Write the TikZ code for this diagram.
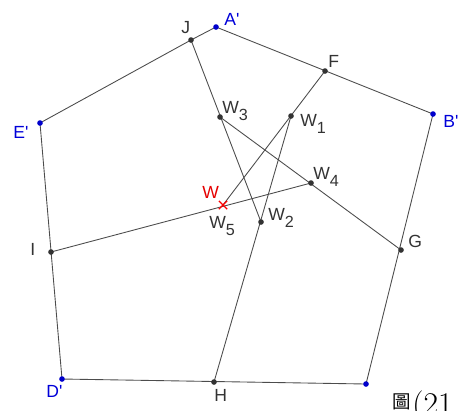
\documentclass[tikz,border=0pt]{standalone}
\usepackage{fontspec}
\newfontfamily\labfont{Liberation Sans}
\newfontfamily\cjk{Noto Sans CJK TC}
\usetikzlibrary{shapes.misc}

\newcommand{\Wsub}[1]{W\raisebox{-4.5pt}{\fontsize{9.2}{10}\selectfont #1}}

\begin{document}
\begin{tikzpicture}[
  x=0.02cm, y=-0.02cm,
  seg/.style={draw=black!70, line width=0.5pt},
  pt/.style={circle, fill=black!80, inner sep=0pt, minimum size=3.2pt},
  bpt/.style={pt, fill=blue!80!black},
  wpt/.style={cross out, draw=red, line width=0.7pt, inner sep=0pt, minimum size=4pt},
  lab/.style={font=\labfont\fontsize{10}{12}\selectfont, text=black!80, inner sep=0pt, anchor=base west},
  blab/.style={lab, text=blue!85!black},
  rlab/.style={lab, text=red!90!black},
  caplab/.style={inner sep=0pt, anchor=base west, text=black}
]
\useasboundingbox (0,0) rectangle (462,410);

% ---------------- pentagon corners ----------------
\coordinate (A) at (216,27);
\coordinate (B) at (433,114);
\coordinate (C) at (366,384);
\coordinate (D) at (62,379);
\coordinate (E) at (40,123);

% ---------------- points on the sides ----------------
\coordinate (J) at (191,40);
\coordinate (F) at (325,71);
\coordinate (G) at (401,250);
\coordinate (H) at (214,382);
\coordinate (I) at (51,252);

% ---------------- inner points ----------------
\coordinate (W3) at (220,117);
\coordinate (W1) at (291,116);
\coordinate (W4) at (311,183);
\coordinate (W) at (223,205);
\coordinate (W2) at (261,222);

% ---------------- segments ----------------
\draw[seg] (A) -- (B) -- (C) -- (D) -- (E) -- (J) -- (A);
\draw[seg] (J) -- (W2);
\draw[seg] (F) -- (W);
\draw[seg] (W1) -- (H);
\draw[seg] (W3) -- (G);
\draw[seg] (I) -- (W4);

% ---------------- dots ----------------
\foreach \p in {A,B,C,D,E} \node[bpt] (d\p) at (\p) {};
\foreach \p in {J,F,G,H,I,W1,W2,W3,W4} \node[pt] (d\p) at (\p) {};
\node[wpt] (dW) at (W) {};

% ---------------- labels ----------------
\node[blab] (tA) at (224,25) {A'};
\node[blab] (tB) at (443,127) {B'};
\node[blab] (tE) at (13,138) {E'};
\node[blab] (tD) at (46,397) {D'};
\node[lab] (tJ) at (181,33) {J};
\node[lab] (tF) at (328,67) {F};
\node[lab] (tG) at (408,247) {G};
\node[lab] (tH) at (214,401) {H};
\node[lab] (tI) at (30,255) {I};
\node[lab] (tW3) at (222,113) {\Wsub{3}};
\node[lab] (tW1) at (300,126) {\Wsub{1}};
\node[lab] (tW4) at (313,179) {\Wsub{4}};
\node[lab] (tW2) at (268,220) {\Wsub{2}};
\node[lab] (tW5) at (209,228) {\Wsub{5}};
\node[rlab] (tW) at (202,198) {W};

% ---------------- caption ----------------
\node[caplab, font=\cjk\fontsize{10.5}{12}\selectfont] (cap) at (392,408) {圖};
\node[caplab, font=\fontsize{18}{22}\selectfont] (capnum) at (412,414) {(21};

\end{tikzpicture}
\end{document}
